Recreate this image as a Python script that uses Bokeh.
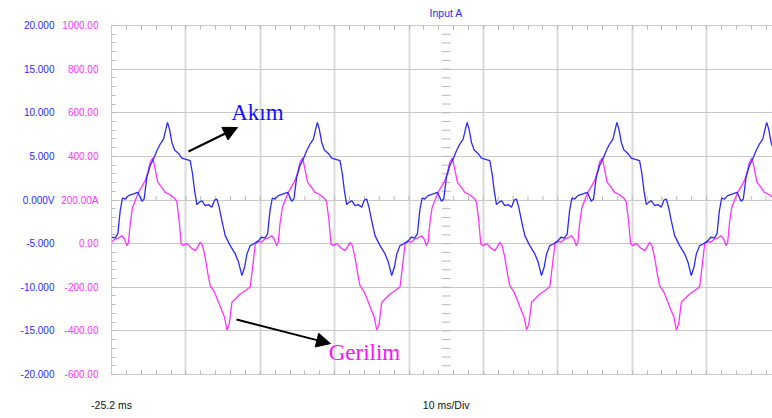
import numpy as np
from bokeh.plotting import figure
from bokeh.models import (Range1d, LinearAxis, FixedTicker, PrintfTickFormatter,
                          Label, Arrow, NormalHead)
from bokeh.embed import file_html
from bokeh.resources import INLINE

# ---- data (one measured period, ms from period start) ----
akim_t = [0.00, 0.49, 0.85, 1.17, 1.48, 1.84, 2.29, 2.96, 3.54, 3.86, 4.08, 4.39,
          4.75, 5.20, 5.65, 6.10, 6.55, 7.00, 7.31, 7.53, 7.80, 8.12, 8.48, 9.01,
          9.46, 10.00, 10.58, 10.90, 11.17, 11.48, 11.79, 12.15, 12.60, 13.05, 13.50,
          13.86, 14.17, 14.48, 14.84, 15.29, 15.96, 16.64, 17.09, 17.53, 17.89, 18.21,
          18.65, 19.10, 19.78]
akim_v = [-4.27, -4.35, -3.89, -1.22, 0.23, 0.11, 0.50, 0.69, 0.88, 0.31, -0.15, 0.11,
          2.60, 3.93, 4.69, 5.65, 6.41, 6.98, 8.13, 8.89, 8.13, 6.60, 5.73, 5.34,
          4.81, 4.66, 4.50, 2.98, 1.07, -0.53, -0.27, -0.08, -0.65, -0.53, -0.84,
          0.00, 0.11, -0.84, -2.37, -4.08, -5.23, -6.18, -7.14, -8.66, -7.71, -6.18,
          -5.23, -5.04, -4.66]
gerilim_t = [0.00, 0.49, 0.94, 1.39, 1.75, 2.06, 2.29, 2.51, 2.83, 3.18, 3.63, 4.08,
             4.53, 4.89, 5.20, 5.56, 5.87, 6.23, 6.68, 7.22, 7.89, 8.57, 8.79, 9.10,
             9.37, 9.69, 10.13, 10.72, 11.26, 11.61, 11.93, 12.24, 12.60, 12.96, 13.27,
             13.86, 14.39, 14.84, 15.20, 15.52, 15.83, 16.19, 16.64, 17.31, 17.98, 18.65,
             18.97, 19.33, 19.78]
gerilim_v = [6, 21, 26, 36, 21, -9, 6, 90, 166, 197, 235, 261,
             289, 327, 373, 393, 342, 281, 261, 235, 224, 205, 190, 105,
             -2, -9, 1, -20, -32, -14, 6, -9, -63, -139, -193,
             -223, -269, -308, -338, -396, -369, -269, -254, -231, -216, -198,
             -109, -2, 10]
period_ms = 20.14
n_periods = 5

blue_ticks = [-20, -15, -10, -5, 0, 5, 10, 15, 20]
pink_ticks = [-600, -400, -200, 0, 200, 400, 600, 800, 1000]
blue_overrides = {0: "0.000V"}
pink_overrides = {200: "200.00A"}
x_start = -25.2
x_center = 19.8
x_div = 10.0
bottom_labels = {x_start: "-25.2 ms", x_center: "10 ms/Div"}
title_text = "Input A"

# ---- build tiled series from the measured period ----
t_akim = np.concatenate([np.array(akim_t) + x_start + k * period_ms for k in range(n_periods)])
v_akim = np.tile(np.array(akim_v, dtype=float), n_periods)
t_ger = np.concatenate([np.array(gerilim_t) + x_start + k * period_ms for k in range(n_periods)])
v_ger = np.tile(np.array(gerilim_v, dtype=float), n_periods)

BLUE = "#2a2aff"
PINK = "#ff33ff"
GRID = "#c8c8c8"
TICKC = "#b8b8b8"
FONT = "Liberation Sans"

p = figure(width=772, height=418, output_backend="svg", toolbar_location=None,
           x_range=Range1d(x_start, 63.67), y_range=Range1d(-600, 1000),
           min_border_left=111, min_border_right=0, min_border_top=25,
           min_border_bottom=44, outline_line_color=None, title=None)
p.extra_y_ranges = {"blue": Range1d(-20, 20)}
p.background_fill_color = "white"
p.border_fill_color = "white"

minor_x = [x_start + 2 * k for k in range(46)]

# bottom axis
xa = p.xaxis[0]
xa.ticker = FixedTicker(ticks=[x_start, x_center], minor_ticks=minor_x)
xa.major_label_overrides = bottom_labels
xa.axis_line_color = GRID
xa.major_tick_in = 0
xa.major_tick_out = 0
xa.minor_tick_in = 4
xa.minor_tick_out = 0
xa.minor_tick_line_color = TICKC
xa.major_label_standoff = 24
xa.major_label_text_font = FONT
xa.major_label_text_font_size = "10.5px"
xa.major_label_text_color = "#111111"

# top axis
ta = LinearAxis(ticker=FixedTicker(ticks=[x_center], minor_ticks=minor_x))
ta.major_label_overrides = {x_center: title_text}
ta.axis_line_color = GRID
ta.major_tick_in = 0
ta.major_tick_out = 0
ta.minor_tick_in = 4
ta.minor_tick_out = 0
ta.minor_tick_line_color = TICKC
ta.major_label_standoff = 7
ta.major_label_text_font = FONT
ta.major_label_text_font_size = "10.5px"
ta.major_label_text_color = BLUE
p.add_layout(ta, "above")

# pink (inner left) axis
ya = p.yaxis[0]
ya.ticker = FixedTicker(ticks=pink_ticks, minor_ticks=list(range(-600, 1001, 40)))
ya.formatter = PrintfTickFormatter(format="%.2f")
ya.major_label_overrides = pink_overrides
ya.axis_line_color = GRID
ya.major_tick_in = 0
ya.major_tick_out = 0
ya.minor_tick_in = 4
ya.minor_tick_out = 0
ya.minor_tick_line_color = TICKC
ya.major_label_standoff = 13
ya.major_label_text_font = FONT
ya.major_label_text_font_size = "10px"
ya.major_label_text_color = PINK

# blue (outer left) axis
ba = LinearAxis(y_range_name="blue", ticker=FixedTicker(ticks=blue_ticks, minor_ticks=[]),
                formatter=PrintfTickFormatter(format="%.3f"))
ba.major_label_overrides = blue_overrides
ba.axis_line_color = None
ba.major_tick_in = 0
ba.major_tick_out = 0
ba.minor_tick_in = 0
ba.minor_tick_out = 0
ba.major_label_standoff = 4
ba.major_label_text_font = FONT
ba.major_label_text_font_size = "10px"
ba.major_label_text_color = BLUE
p.add_layout(ba, "left")

# grids
p.xgrid[0].ticker = FixedTicker(ticks=[x_start + x_div * k for k in range(1, 10)])
p.xgrid[0].grid_line_color = "#dadada"
p.xgrid[0].grid_line_width = 2
p.ygrid[0].grid_line_color = GRID
p.ygrid[0].grid_line_width = 1

# centre cross tick marks
p.segment(x0=minor_x, x1=minor_x, y0=[0] * len(minor_x), y1=[0.46] * len(minor_x),
          y_range_name="blue", line_color=TICKC, line_width=1)
cy = [k for k in range(-19, 20)]
p.segment(x0=[x_center - 0.58] * len(cy), x1=[x_center + 0.58] * len(cy), y0=cy, y1=cy,
          y_range_name="blue", line_color=TICKC, line_width=1)

# traces
p.line(t_ger, v_ger, line_color=PINK, line_width=1.3)
p.line(t_akim, v_akim, y_range_name="blue", line_color=BLUE, line_width=1.3)

# annotations
p.add_layout(Arrow(end=NormalHead(size=14, fill_color="black", line_color="black"),
                   x_start=-14.85, y_start=5.56, x_end=-8.26, y_end=8.31,
                   y_range_name="blue", line_color="black", line_width=2))
p.add_layout(Label(x=-9.1, y=10.03, y_range_name="blue", text="Akım", text_align="left",
                   text_baseline="alphabetic", text_font="Liberation Serif",
                   text_font_size="23px", text_color="#1010ff"))
p.add_layout(Arrow(end=NormalHead(size=14, fill_color="black", line_color="black"),
                   x_start=-8.39, y_start=-13.70, x_end=4.25, y_end=-16.46,
                   y_range_name="blue", line_color="black", line_width=2))
p.add_layout(Label(x=4.0, y=-17.49, y_range_name="blue", text="Gerilim", text_align="left",
                   text_baseline="alphabetic", text_font="Liberation Serif",
                   text_font_size="23px", text_color="#ff10ff"))

open("out.html", "w").write(file_html(p, INLINE))
